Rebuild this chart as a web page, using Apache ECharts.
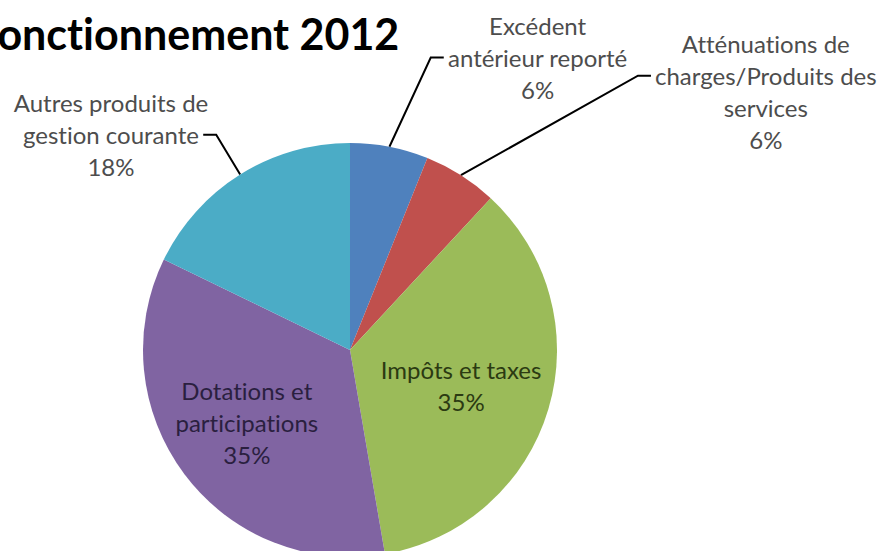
<!DOCTYPE html>
<html>
<head>
<meta charset="utf-8">
<style>
  html, body { margin: 0; padding: 0; background: #ffffff; }
  #chart { width: 885px; height: 551px; }
  #chart text, #chart tspan { font-variant-ligatures: none !important; font-feature-settings: "liga" 0, "clig" 0 !important; }
</style>
<script src="https://cdn.jsdelivr.net/npm/echarts@6/dist/echarts.min.js"></script>
</head>
<body>
<div id="chart"></div>
<script>
// ---- data ----
const titleText = 'Fonctionnement 2012';
const categories = [
  'Excédent antérieur reporté',
  'Atténuations de charges/Produits des services',
  'Impôts et taxes',
  'Dotations et participations',
  'Autres produits de gestion courante'
];
const labelLines = [
  ['Excédent', 'antérieur reporté'],
  ['Atténuations de', 'charges/Produits des', 'services'],
  ['Impôts et taxes'],
  ['Dotations et', 'participations'],
  ['Autres produits de', 'gestion courante']
];
const values = [6.1, 5.8, 35.4, 34.9, 17.8];
const colors = ['#4F81BD', '#C0504D', '#9BBB59', '#8064A2', '#4BACC6'];

// ---- style / layout config ----
const FONT = 'Lato';
const FS = 24;
const LH = 32;
const labelColors = ['#4d4d4d', '#4d4d4d', '#2b3a12', '#2a1f3f', '#4d4d4d'];
const labelPos = ['outside', 'outside', 'inside', 'inside', 'outside'];
const lineLen = [91, 99, 0, 0, 47];
const lineLen2 = [36, 136, 0, 0, 2];
const insideShift = { 2: [9, 5], 3: [-18, 9] };

const ctx = document.createElement('canvas').getContext('2d');
ctx.font = FS + 'px ' + FONT;
function tw(s) { return ctx.measureText(s).width; }

const data = categories.map((name, i) => ({
  name: name,
  value: values[i],
  itemStyle: { color: colors[i] },
  label: {
    position: labelPos[i],
    rich: { c: { align: 'center', fontFamily: FONT, fontSize: FS, lineHeight: LH, color: labelColors[i] } }
  },
  labelLine: {
    show: labelPos[i] === 'outside',
    length: lineLen[i],
    length2: lineLen2[i],
    lineStyle: { color: '#000000', width: 2 }
  }
}));

const chart = echarts.init(document.getElementById('chart'), null, { renderer: 'svg' });
chart.setOption({
  backgroundColor: '#ffffff',
  animation: false,
  graphic: [{
    type: 'text',
    left: -25,
    top: 12,
    style: { text: titleText, font: 'bold 43px ' + FONT, fill: '#000000' }
  }],
  series: [{
    type: 'pie',
    center: [350, 350],
    radius: 207,
    startAngle: 90,
    clockwise: true,
    avoidLabelOverlap: false,
    percentPrecision: 0,
    emphasis: { disabled: true },
    itemStyle: { borderWidth: 0 },
    label: {
      fontFamily: FONT,
      fontSize: FS,
      lineHeight: LH,
      formatter: function (p) {
        const ls = labelLines[p.dataIndex].concat([p.percent + '%']);
        return ls.map(s => '{c|' + s + '}').join('\n');
      }
    },
    labelLayout: function (p) {
      const i = p.dataIndex;
      if (insideShift[i]) {
        return { dx: insideShift[i][0], dy: insideShift[i][1] };
      }
      const pts = p.labelLinePoints;
      if (!pts) return {};
      const r = p.labelRect;
      const ls = labelLines[i].concat([Math.round(p.percent || 0) + '%']);
      const maxW = Math.max.apply(null, ls.map(tw));
      const w2 = tw(ls[1]);
      const y = r.y + LH * 1.5;
      const rightSide = pts[2][0] > pts[0][0];
      let endX, elbowX;
      if (rightSide) {
        endX = r.x - 4 + (maxW - w2) / 2;
        elbowX = endX - 13;
      } else {
        endX = r.x + r.width + 4 - (maxW - w2) / 2;
        elbowX = endX + 13;
      }
      return { labelLinePoints: [pts[0], [elbowX, y], [endX, y]] };
    },
    data: data
  }]
});
</script>
</body>
</html>
